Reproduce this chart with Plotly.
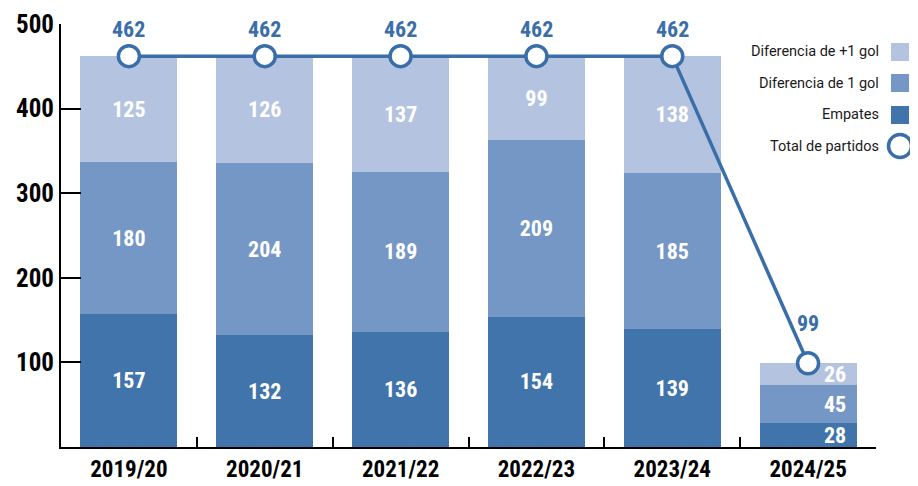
import plotly.graph_objects as go

seasons = ["2019/20", "2020/21", "2021/22", "2022/23", "2023/24", "2024/25"]
empates = [157, 132, 136, 154, 139, 28]
dif_1 = [180, 204, 189, 209, 185, 45]
dif_mas1 = [125, 126, 137, 99, 138, 26]
total = [462, 462, 462, 462, 462, 99]

series_names = ["Empates", "Diferencia de 1 gol", "Diferencia de +1 gol"]
legend_order = ["Diferencia de +1 gol", "Diferencia de 1 gol", "Empates", "Total de partidos"]
y_ticks = [100, 200, 300, 400, 500]

C_DARK = "#4174aa"
C_MID = "#7597c5"
C_LIGHT = "#b4c4e0"
C_LINE = "#3a6ea9"
FONT = "Roboto Condensed, Liberation Sans Narrow, DejaVu Sans Condensed, Roboto, sans-serif"

# page has an 8px body margin: size the figure so it fits the 918x486 window
OFF = 8
W, H = 918 - OFF, 486 - OFF
# plot area in window pixels: x 61..876, y 24..447
ML, MR, MT, MB = 61 - OFF, 918 - 876, 24 - OFF, 486 - 447

def px_x(px):  # window px -> paper
    return (px - OFF - ML) / (W - ML - MR)

def px_y(py):
    return (H - MB - (py - OFF)) / (H - MT - MB)

fig = go.Figure()
n = len(seasons)
big = n - 1  # last (small) bar gets side labels
for vals, name, col in zip([empates, dif_1, dif_mas1], series_names, [C_DARK, C_MID, C_LIGHT]):
    txt = [str(v) if i < big else "" for i, v in enumerate(vals)]
    fig.add_trace(go.Bar(
        x=seasons, y=vals, name=name, marker=dict(color=col, line=dict(width=0)),
        text=txt, textposition="inside", insidetextanchor="middle",
        constraintext="none",
        textfont=dict(color="white", size=22, family=FONT, weight="bold"),
        showlegend=False, hoverinfo="skip",
    ))

fig.add_trace(go.Scatter(
    x=seasons, y=total, mode="lines+markers", name="Total de partidos",
    line=dict(color=C_LINE, width=3.5),
    marker=dict(size=21, color="white", line=dict(color=C_LINE, width=3.5)),
    showlegend=False, hoverinfo="skip",
))

annotations = []
# total labels above markers
for i, (s, t) in enumerate(zip(seasons, total)):
    annotations.append(dict(
        x=s, y=t, text=str(t), showarrow=False, yshift=40 if i == big else 27,
        font=dict(color=C_LINE, size=22, family=FONT, weight="bold"),
    ))
# labels for small last bar, placed at right side
cum = 0
for v in [empates[big], dif_1[big], dif_mas1[big]]:
    annotations.append(dict(
        x=seasons[big], y=cum + v / 2, text=str(v), showarrow=False,
        xanchor="right", xshift=40,
        font=dict(color="white", size=22, family=FONT, weight="bold"),
    ))
    cum += v

# custom legend (text left of symbol)
shapes = []
leg_y = [52, 83, 115, 146]
leg_cols = [C_LIGHT, C_MID, C_DARK, None]
for name, py, col in zip(legend_order, leg_y, leg_cols):
    annotations.append(dict(
        x=px_x(881), y=px_y(py), xref="paper", yref="paper", text=name,
        showarrow=False, xanchor="right", yanchor="middle",
        font=dict(color="#1a1a1a", size=14.5, family="Roboto, sans-serif"),
    ))
    if col:
        shapes.append(dict(type="rect", xref="paper", yref="paper",
                           x0=px_x(891), x1=px_x(909), y0=px_y(py + 9), y1=px_y(py - 9),
                           fillcolor=col, line=dict(width=0)))
    else:
        shapes.append(dict(type="circle", xref="paper", yref="paper",
                           x0=px_x(888.5), x1=px_x(911.5), y0=px_y(py + 11.5), y1=px_y(py - 11.5),
                           fillcolor="white", line=dict(color=C_LINE, width=3.5)))

fig.update_layout(
    width=W, height=H, barmode="stack", bargap=0.287,
    margin=dict(l=ML, r=MR, t=MT, b=MB, pad=0, autoexpand=False),
    plot_bgcolor="white", paper_bgcolor="white",
    annotations=annotations, shapes=shapes,
    xaxis=dict(
        range=[-0.5, 5.5], showline=True, linecolor="black", linewidth=2,
        ticks="inside", tickson="boundaries", ticklen=10, tickwidth=2, tickcolor="black",
        showgrid=False, zeroline=False, automargin=False,
        tickfont=dict(size=23, color="black", family=FONT, weight="bold"),
    ),
    yaxis=dict(
        range=[0, 500], tickvals=y_ticks, showline=True, linecolor="black", linewidth=2,
        ticks="inside", ticklen=20, tickwidth=2, tickcolor="black",
        showgrid=False, zeroline=False, automargin=False,
        tickfont=dict(size=25, color="black", family=FONT, weight="bold"),
    ),
)

fig.write_html("out.html")
